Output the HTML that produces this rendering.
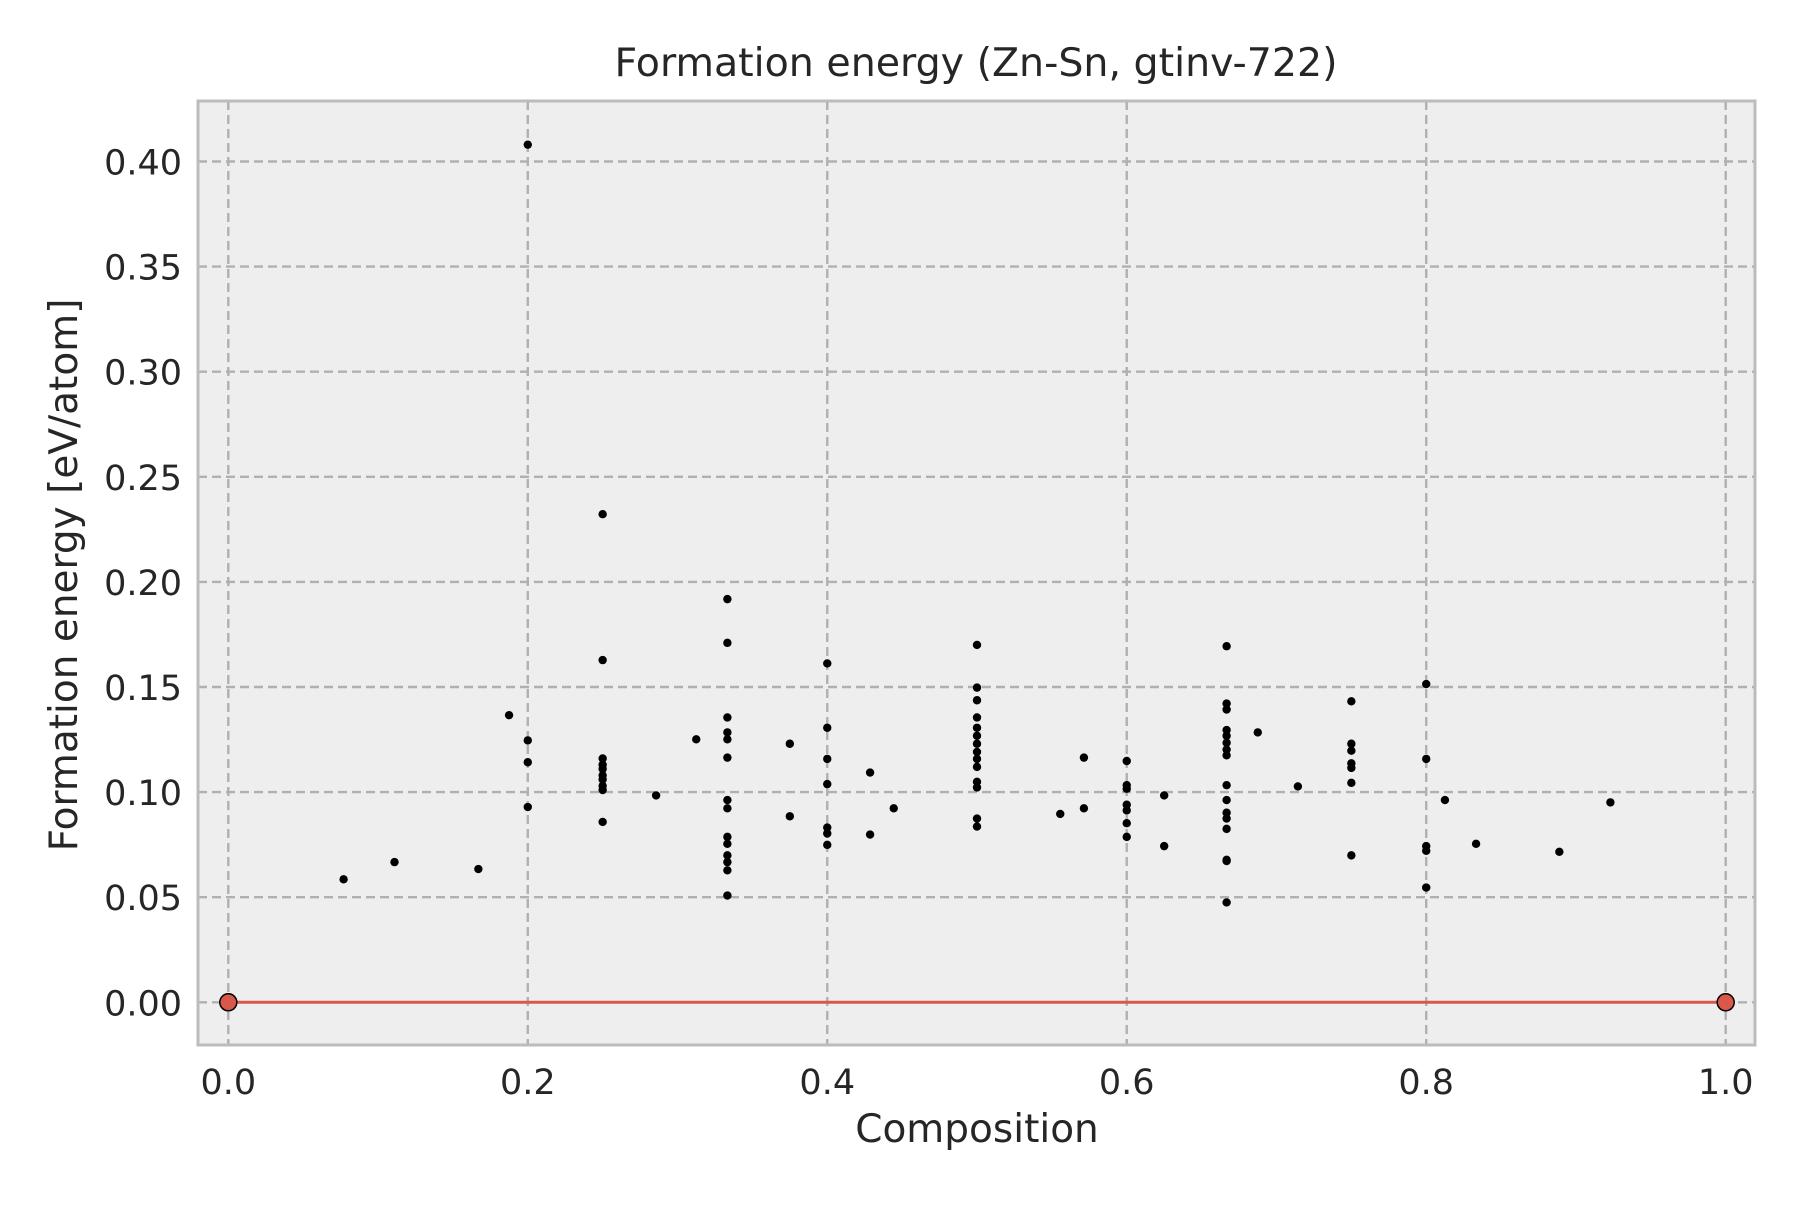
<!DOCTYPE html>
<html><head><meta charset="utf-8"><style>
html,body{margin:0;padding:0;background:#fff;}
svg text{font-family:"DejaVu Sans","Liberation Sans",sans-serif;fill:#262626;}
</style></head><body>
<svg id="chart" width="1800" height="1200" viewBox="0 0 1800 1200" xmlns="http://www.w3.org/2000/svg">
<rect x="198" y="101" width="1557" height="944" fill="#eeeeee"/>
<g id="grid"></g>
<g id="hull"></g>
<g id="points"></g>
<rect x="198" y="101" width="1557" height="944" fill="none" stroke="#bcbcbc" stroke-width="3"/>
<g id="ticks"></g>
<text x="976" y="76" font-size="39.5" text-anchor="middle">Formation energy (Zn-Sn, gtinv-722)</text>
<text x="977" y="1142" font-size="39" text-anchor="middle">Composition</text>
<text x="0" y="0" font-size="39" text-anchor="middle" transform="translate(77,575) rotate(-90)">Formation energy [eV/atom]</text>
</svg>
<script>
const xTicks = [0.0, 0.2, 0.4, 0.6, 0.8, 1.0];
const xTickLabels = ["0.0","0.2","0.4","0.6","0.8","1.0"];
const yTicks = [0.00,0.05,0.10,0.15,0.20,0.25,0.30,0.35,0.40];
const yTickLabels = ["0.00","0.05","0.10","0.15","0.20","0.25","0.30","0.35","0.40"];
const hullX = [0.0, 1.0];
const hullY = [0.0, 0.0];
const compX = [0.077,0.111,0.167,0.1875,
0.2,0.2,0.2,0.2,
0.25,0.25,0.25,0.25,0.25,0.25,0.25,0.25,0.25,0.25,
0.2857,0.3125,
0.3333,0.3333,0.3333,0.3333,0.3333,0.3333,0.3333,0.3333,0.3333,0.3333,0.3333,0.3333,0.3333,0.3333,
0.375,0.375,
0.4,0.4,0.4,0.4,0.4,0.4,0.4,
0.4286,0.4286,0.4444,
0.5,0.5,0.5,0.5,0.5,0.5,0.5,0.5,0.5,0.5,0.5,0.5,0.5,0.5,
0.5556,0.5714,0.5714,
0.6,0.6,0.6,0.6,0.6,0.6,0.6,
0.625,0.625,
0.6667,0.6667,0.6667,0.6667,0.6667,0.6667,0.6667,0.6667,0.6667,0.6667,0.6667,0.6667,0.6667,0.6667,0.6667,0.6667,
0.6875,0.7143,
0.75,0.75,0.75,0.75,0.75,0.75,0.75,
0.8,0.8,0.8,0.8,0.8,
0.8125,0.8333,0.8889,0.923];
const energyY = [0.0585,0.0667,0.0634,0.1366,
0.408,0.1246,0.1142,0.0929,
0.2322,0.1628,0.116,0.113,0.111,0.108,0.106,0.103,0.101,0.0858,
0.0984,0.1251,
0.1918,0.171,0.1355,0.1284,0.1251,0.1164,0.0962,0.0923,0.0787,0.0754,0.0699,0.0667,0.0628,0.0508,
0.123,0.0885,
0.1612,0.1306,0.1158,0.1038,0.0831,0.0803,0.0749,
0.1093,0.0798,0.0923,
0.17,0.1497,0.1437,0.1355,0.1306,0.1268,0.123,0.1191,0.1158,0.112,0.1049,0.1022,0.0874,0.0836,
0.0896,0.1164,0.0923,
0.1148,0.1033,0.1016,0.094,0.0913,0.0852,0.0787,
0.0984,0.0743,
0.1694,0.1421,0.1393,0.1295,0.1268,0.1235,0.1202,0.1175,0.1033,0.0962,0.0902,0.0874,0.0825,0.0678,0.0672,0.0475,
0.1284,0.1027,
0.1432,0.123,0.1197,0.1137,0.1115,0.1044,0.0699,
0.1514,0.1158,0.0743,0.0721,0.0546,
0.0962,0.0754,0.0716,0.0951];

const NS = "http://www.w3.org/2000/svg";
function sx(v){ return 228.3 + v * 1497.4; }
function sy(v){ return 1002.3 - v * 2102; }
function mk(tag, attrs, parent){
  const e = document.createElementNS(NS, tag);
  for (const k in attrs) e.setAttribute(k, attrs[k]);
  parent.appendChild(e);
  return e;
}
const grid = document.getElementById('grid');
const ticks = document.getElementById('ticks');
xTicks.forEach((v,i)=>{
  const l = mk('line',{x1:sx(v),x2:sx(v),y1:101,y2:1045,stroke:'#b0b0b0','stroke-width':2.4,'stroke-dasharray':'9,5'},grid);
  
  
  const t = mk('text',{x:sx(v),y:1094,'font-size':35,'text-anchor':'middle'},ticks);
  t.textContent = xTickLabels[i];
  
  
});
yTicks.forEach((v,i)=>{
  const l = mk('line',{x1:198,x2:1755,y1:sy(v),y2:sy(v),stroke:'#b0b0b0','stroke-width':2.4,'stroke-dasharray':'9,5'},grid);
  
  
  const t = mk('text',{x:182,y:sy(v)+13,'font-size':35,'text-anchor':'end'},ticks);
  t.textContent = yTickLabels[i];
  
  
});
const hull = document.getElementById('hull');
const hl = mk('polyline',{points:hullX.map((x,i)=>sx(x)+','+sy(hullY[i])).join(' '),fill:'none',stroke:'#d9584a','stroke-width':3},hull);


hullX.forEach((x,i)=>{
  const c = mk('circle',{cx:sx(x),cy:sy(hullY[i]),r:8.5,fill:'#d9584a',stroke:'#000','stroke-width':1.5},hull);
  
  
});
const pts = document.getElementById('points');
compX.forEach((x,i)=>{
  const c = mk('circle',{cx:sx(x),cy:sy(energyY[i]),r:4.2,fill:'#000'},pts);
  
  
});
</script>
</body></html>
